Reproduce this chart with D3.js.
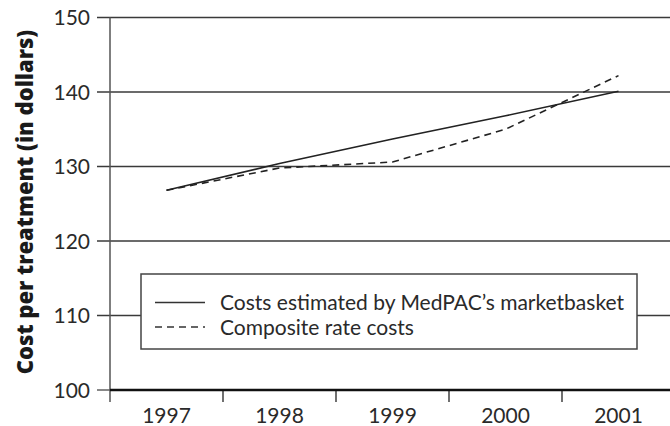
<!DOCTYPE html>
<html>
<head>
<meta charset="utf-8">
<script src="https://cdn.jsdelivr.net/npm/d3@7"></script>
<style>
  body { margin: 0; background: #fff; }
  text { font-family: Lato, "Open Sans", sans-serif; fill: #2a2a2a; }
</style>
</head>
<body>
<div id="graph"></div>
<script>
// data
const years = ["1997", "1998", "1999", "2000", "2001"];
const marketbasket = [126.8, 130.4, 133.7, 136.8, 140.1];
const composite = [126.8, 129.8, 130.6, 135.0, 142.2];
const yTicks = [100, 110, 120, 130, 140, 150];
const legendLabels = ["Costs estimated by MedPAC\u2019s marketbasket", "Composite rate costs"];

const W = 670, H = 426;
const plotLeft = 110, plotRight = 675, plotTop = 17.5, plotBottom = 390;

const svg = d3.select("#graph")
  .append("svg")
    .attr("width", W)
    .attr("height", H);

// scales
const x = d3.scaleBand()
  .domain(years)
  .range([plotLeft, plotRight])
  .padding(0);

const y = d3.scaleLinear()
  .domain([100, 150])
  .range([plotBottom, plotTop]);

// horizontal gridlines (with the little tick stubs left of the axis)
svg.append("g")
  .selectAll("line")
  .data(yTicks.filter(d => d > 100))
  .join("line")
    .attr("x1", plotLeft - 13)
    .attr("x2", W)
    .attr("y1", d => y(d))
    .attr("y2", d => y(d))
    .attr("stroke", "#3a3a3a")
    .attr("stroke-width", 1.4);

// y tick labels
svg.append("g")
  .selectAll("text")
  .data(yTicks)
  .join("text")
    .attr("x", plotLeft - 20)
    .attr("y", d => y(d))
    .attr("dy", "0.36em")
    .attr("text-anchor", "end")
    .style("font-size", "21px")
    .text(d => d);

// y axis line
svg.append("line")
  .attr("x1", plotLeft).attr("x2", plotLeft)
  .attr("y1", y(150)).attr("y2", plotBottom + 12)
  .attr("stroke", "#555")
  .attr("stroke-width", 1.5);

// tick stub at 100
svg.append("line")
  .attr("x1", plotLeft - 13).attr("x2", plotLeft)
  .attr("y1", y(100)).attr("y2", y(100))
  .attr("stroke", "#555")
  .attr("stroke-width", 1.4);

// x ticks at band edges
svg.append("g")
  .selectAll("line")
  .data(years.slice(1))
  .join("line")
    .attr("x1", d => x(d))
    .attr("x2", d => x(d))
    .attr("y1", plotBottom)
    .attr("y2", plotBottom + 12)
    .attr("stroke", "#333")
    .attr("stroke-width", 1.4);

// x labels at band centres
svg.append("g")
  .selectAll("text")
  .data(years)
  .join("text")
    .attr("x", d => x(d) + x.bandwidth() / 2)
    .attr("y", 423)
    .attr("text-anchor", "middle")
    .style("font-size", "21px")
    .text(d => d);

// baseline axis
svg.append("line")
  .attr("x1", plotLeft).attr("x2", W)
  .attr("y1", plotBottom).attr("y2", plotBottom)
  .attr("stroke", "#111")
  .attr("stroke-width", 2.5);

// y title
svg.append("text")
  .attr("transform", "translate(25,202) rotate(-90)")
  .attr("text-anchor", "middle")
  .attr("dy", "0.36em")
  .style("font-family", "'Open Sans', Lato, sans-serif")
  .style("font-size", "22px")
  .style("font-weight", "800")
  .style("fill", "#1a1a1a")
  .text("Cost per treatment (in dollars)");

// lines
const line = d3.line()
  .x((d, i) => x(years[i]) + x.bandwidth() / 2)
  .y(d => y(d));

svg.append("path")
  .datum(marketbasket)
  .attr("d", line)
  .attr("fill", "none")
  .attr("stroke", "#222")
  .attr("stroke-width", 1.6);

svg.append("path")
  .datum(composite)
  .attr("d", line)
  .attr("fill", "none")
  .attr("stroke", "#222")
  .attr("stroke-width", 1.6)
  .attr("stroke-dasharray", "7,5");

// legend
const lg = svg.append("g");
lg.append("rect")
  .attr("x", 141).attr("y", 274)
  .attr("width", 496).attr("height", 75)
  .attr("fill", "#fff")
  .attr("stroke", "#444")
  .attr("stroke-width", 1.5);

legendLabels.forEach((lab, i) => {
  const ly = 302.5 + i * 24.5;
  lg.append("line")
    .attr("x1", 155).attr("x2", 205)
    .attr("y1", ly).attr("y2", ly)
    .attr("stroke", "#333")
    .attr("stroke-width", 1.5)
    .attr("stroke-dasharray", i === 1 ? "7,5" : null);
  lg.append("text")
    .attr("x", 220)
    .attr("y", ly)
    .attr("dy", "0.36em")
    .style("font-size", "21px")
    .text(lab);
});
</script>
</body>
</html>
